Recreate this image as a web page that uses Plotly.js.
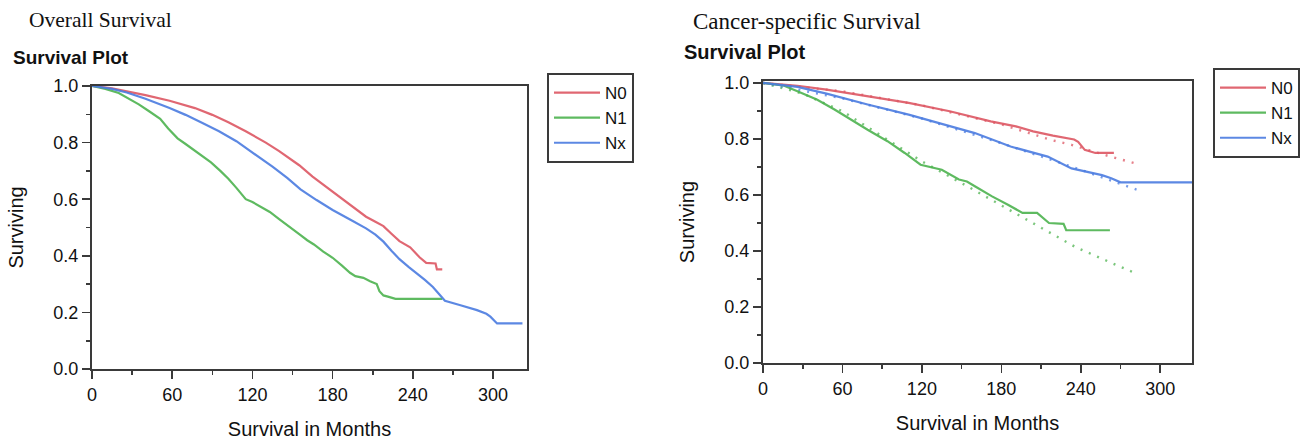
<!DOCTYPE html>
<html>
<head>
<meta charset="utf-8">
<script src="https://cdn.plot.ly/plotly-3.0.1.min.js"></script>
<style>html,body{margin:0;padding:0;background:#fff;}#chart{width:1311px;height:441px;}</style>
</head>
<body>
<div id="chart"></div>
<script>
// ---- Overall Survival (left panel) ----
const osN0Months = [0, 15, 26, 40, 58, 77, 90, 102, 115, 121, 130, 140, 155, 165, 180, 193, 205, 212, 218, 224, 230, 238, 242, 245, 250, 257, 258, 262];
const osN0Surv   = [1.0, 0.992, 0.981, 0.968, 0.948, 0.922, 0.898, 0.872, 0.84, 0.825, 0.8, 0.77, 0.72, 0.68, 0.627, 0.58, 0.538, 0.52, 0.505, 0.478, 0.452, 0.43, 0.41, 0.395, 0.375, 0.373, 0.352, 0.352];
const osN1Months = [0, 10, 20, 28, 35, 43, 51, 57, 64, 70, 77, 83, 89, 96, 102, 108, 115, 120, 127, 133, 140, 148, 156, 161, 166, 173, 180, 187, 193, 197, 203, 208, 213, 215, 218, 222, 227, 262];
const osN1Surv   = [1.0, 0.99, 0.975, 0.955, 0.935, 0.91, 0.884, 0.85, 0.815, 0.795, 0.77, 0.75, 0.73, 0.7, 0.672, 0.64, 0.6, 0.59, 0.572, 0.555, 0.53, 0.5, 0.473, 0.455, 0.44, 0.415, 0.393, 0.365, 0.34, 0.328, 0.322, 0.31, 0.3, 0.275, 0.26, 0.255, 0.248, 0.248];
const osNxMonths = [0, 15, 26, 40, 58, 70, 83, 95, 108, 120, 127, 135, 146, 156, 168, 180, 193, 205, 212, 218, 224, 230, 237, 243, 249, 255, 260, 264, 275, 288, 295, 298, 303, 322];
const osNxSurv   = [1.0, 0.99, 0.977, 0.955, 0.922, 0.898, 0.868, 0.84, 0.805, 0.765, 0.742, 0.715, 0.675, 0.635, 0.597, 0.562, 0.528, 0.497, 0.475, 0.45, 0.418, 0.388, 0.36, 0.338, 0.315, 0.29, 0.262, 0.241, 0.226, 0.208, 0.195, 0.185, 0.161, 0.161];

// ---- Cancer-specific Survival (right panel) ----
const cssN0Months = [0, 26, 48, 79, 110, 141, 172, 191, 204, 219, 235, 238, 243, 251, 265];
const cssN0Surv   = [1.0, 0.99, 0.976, 0.952, 0.929, 0.899, 0.863, 0.845, 0.827, 0.812, 0.798, 0.79, 0.761, 0.75, 0.75];
const cssN0FitMonths = [0, 60, 120, 180, 218, 233, 261, 281];
const cssN0FitSurv   = [1.0, 0.97, 0.92, 0.852, 0.796, 0.779, 0.739, 0.713];
const cssN1Months = [0, 16, 26, 41, 54, 66, 79, 94, 107, 119, 135, 148, 154, 160, 173, 185, 196, 207, 216, 227, 229, 262];
const cssN1Surv   = [1.0, 0.99, 0.97, 0.94, 0.905, 0.869, 0.833, 0.792, 0.75, 0.708, 0.69, 0.655, 0.648, 0.631, 0.595, 0.565, 0.536, 0.536, 0.5, 0.497, 0.474, 0.474];
const cssN1FitMonths = [0, 30, 60, 90, 120, 154, 197, 236, 262, 281];
const cssN1FitSurv   = [1.0, 0.962, 0.899, 0.81, 0.72, 0.632, 0.518, 0.414, 0.36, 0.321];
const cssNxMonths = [0, 26, 48, 79, 110, 141, 160, 187, 204, 215, 233, 247, 256, 263, 270, 324];
const cssNxSurv   = [1.0, 0.986, 0.962, 0.923, 0.887, 0.845, 0.821, 0.773, 0.75, 0.737, 0.695, 0.679, 0.671, 0.66, 0.645, 0.645];
const cssNxFitMonths = [0, 60, 120, 180, 240, 277, 283];
const cssNxFitSurv   = [1.0, 0.945, 0.873, 0.785, 0.69, 0.629, 0.618];

const groupNames = ['N0', 'N1', 'Nx'];
const xTickVals = [0, 60, 120, 180, 240, 300];
const xMinorVals = [30, 90, 150, 210, 270];
const yTickVals = [0, 0.2, 0.4, 0.6, 0.8, 1.0];
const yMinorVals = [0.1, 0.3, 0.5, 0.7, 0.9];

const colors = {N0: '#dd5663', N1: '#4db34f', Nx: '#4a7be0'};
const W = 1311, H = 441;
const sans = 'Liberation Sans, Arial, sans-serif';
const serif = 'Liberation Serif, Times New Roman, serif';
const axisCol = '#3a3a3a';

function solid(x, y, name, xa, ya, leg) {
  return {type: 'scatter', mode: 'lines', x: x, y: y, name: name, xaxis: xa, yaxis: ya,
          legend: leg, line: {color: colors[name], width: 2.2}, opacity: 0.9, hoverinfo: 'skip'};
}
function fit(x, y, name, xa, ya) {
  return {type: 'scatter', mode: 'lines', x: x, y: y, name: name + ' fit', xaxis: xa, yaxis: ya,
          showlegend: false, line: {color: colors[name], width: 2.4, dash: '2px,7px'}, opacity: 0.75, hoverinfo: 'skip'};
}

const data = [
  solid(osN0Months, osN0Surv, 'N0', 'x', 'y', 'legend'),
  solid(osN1Months, osN1Surv, 'N1', 'x', 'y', 'legend'),
  solid(osNxMonths, osNxSurv, 'Nx', 'x', 'y', 'legend'),
  fit(cssN0FitMonths, cssN0FitSurv, 'N0', 'x2', 'y2'),
  fit(cssN1FitMonths, cssN1FitSurv, 'N1', 'x2', 'y2'),
  fit(cssNxFitMonths, cssNxFitSurv, 'Nx', 'x2', 'y2'),
  solid(cssN0Months, cssN0Surv, 'N0', 'x2', 'y2', 'legend2'),
  solid(cssN1Months, cssN1Surv, 'N1', 'x2', 'y2', 'legend2'),
  solid(cssNxMonths, cssNxSurv, 'Nx', 'x2', 'y2', 'legend2')
];

function xAxis(domain, range) {
  return {domain: domain, range: range, tickmode: 'array', tickvals: xTickVals, ticktext: xTickVals.map(String),
          ticks: 'outside', ticklen: 8, tickwidth: 1.6, tickcolor: axisCol,
          minor: {tickmode: 'array', tickvals: xMinorVals, ticks: 'outside', ticklen: 4, tickwidth: 1.6, tickcolor: axisCol, showgrid: false},
          showline: true, linecolor: axisCol, linewidth: 2, mirror: true,
          showgrid: false, zeroline: false, fixedrange: true,
          tickfont: {family: sans, size: 18, color: '#111'},
          title: {text: 'Survival in Months', font: {family: sans, size: 20, color: '#111'}, standoff: 18}};
}
function yAxis(domain, range, anchor) {
  return {domain: domain, range: range, anchor: anchor, tickmode: 'array', tickvals: yTickVals, ticktext: yTickVals.map(v => v.toFixed(1)),
          ticks: 'outside', ticklen: 8, tickwidth: 1.6, tickcolor: axisCol,
          minor: {tickmode: 'array', tickvals: yMinorVals, ticks: 'outside', ticklen: 4, tickwidth: 1.6, tickcolor: axisCol, showgrid: false},
          showline: true, linecolor: axisCol, linewidth: 2, mirror: true,
          showgrid: false, zeroline: false, fixedrange: true,
          tickfont: {family: sans, size: 18, color: '#111'},
          title: {text: 'Surviving', font: {family: sans, size: 20, color: '#111'}, standoff: 24}};
}

const legendBase = {xanchor: 'left', yanchor: 'top', bgcolor: '#fff',
  bordercolor: axisCol, borderwidth: 2, font: {family: sans, size: 17, color: '#111'},
  itemwidth: 46, tracegroupgap: 0};

const layout = {
  width: W, height: H,
  margin: {l: 0, r: 0, t: 0, b: 0},
  paper_bgcolor: '#fff', plot_bgcolor: '#fff',
  font: {family: sans, color: '#111'},
  xaxis: Object.assign(xAxis([92 / W, 527 / W], [0, 325.4]), {anchor: 'y'}),
  yaxis: yAxis([(H - 369) / H, (H - 86) / H], [0, 1.0], 'x'),
  xaxis2: Object.assign(xAxis([763 / W, 1192 / W], [0, 324]), {anchor: 'y2'}),
  yaxis2: yAxis([(H - 363) / H, (H - 81) / H], [0, 1.007], 'x2'),
  legend: Object.assign({x: 547 / W, y: 1 - 73 / H}, legendBase),
  legend2: Object.assign({x: 1213 / W, y: 1 - 68 / H}, legendBase),
  showlegend: true,
  annotations: [
    {text: 'Overall Survival', xref: 'paper', yref: 'paper', x: 27 / W, y: 1 - 20 / H, xanchor: 'left', yanchor: 'middle',
     showarrow: false, font: {family: serif, size: 21.5, color: '#111'}},
    {text: '<b>Survival Plot</b>', xref: 'paper', yref: 'paper', x: 11 / W, y: 1 - 57 / H, xanchor: 'left', yanchor: 'middle',
     showarrow: false, font: {family: sans, size: 19, color: '#111'}},
    {text: 'Cancer-specific Survival', xref: 'paper', yref: 'paper', x: 691 / W, y: 1 - 21 / H, xanchor: 'left', yanchor: 'middle',
     showarrow: false, font: {family: serif, size: 23, color: '#111'}},
    {text: '<b>Survival Plot</b>', xref: 'paper', yref: 'paper', x: 682 / W, y: 1 - 52 / H, xanchor: 'left', yanchor: 'middle',
     showarrow: false, font: {family: sans, size: 20, color: '#111'}}
  ]
};

Plotly.newPlot('chart', data, layout, {staticPlot: true, displayModeBar: false});
</script>
</body>
</html>
